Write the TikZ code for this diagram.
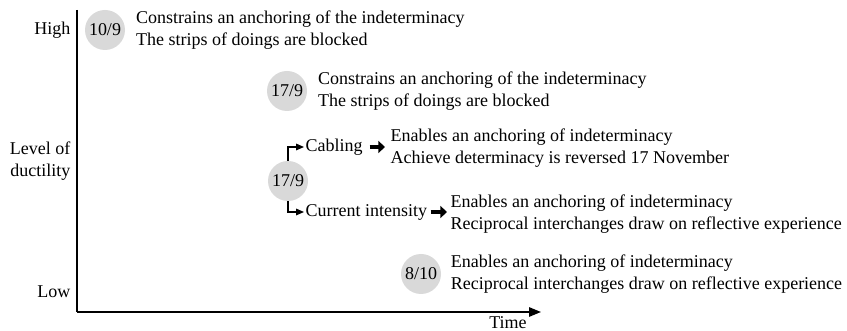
\documentclass[tikz,border=0pt]{standalone}
\usepackage{fontspec}
\setmainfont{Liberation Serif}
\usetikzlibrary{arrows.meta,positioning}
\definecolor{dgray}{RGB}{217,217,217}
\tikzset{
  lbl/.style={font=\fontsize{13.5}{16.5}\selectfont,inner sep=1pt},
  txt/.style={lbl,align=left,anchor=west},
  dt/.style={circle,fill=dgray,minimum size=30pt,inner sep=0pt,
    font=\fontsize{13.5}{15}\selectfont},
  axis/.style={line width=1.4pt},
  brarr/.style={-{Triangle[length=6pt,width=5pt]},line width=0.8pt},
  bigarr/.style={-{Triangle[length=5pt,width=9pt]},line width=2.6pt,
    shorten <=1.5pt,shorten >=1.5pt},
}
\begin{document}
\begin{tikzpicture}[x=0.75pt,y=-0.75pt]
    \useasboundingbox (0,0) rectangle (847,331);

    % ── Axes ───────────────────────────────────────────────────────────────
    \coordinate (ytop) at (77,10);
    \coordinate (org)  at (77,312);
    \coordinate (xend) at (541,312);
    \draw[axis] (ytop)--(org);
    \draw[axis,-{Triangle[length=9pt,width=7pt]}] (org)--(xend);

    \node[lbl,anchor=east] (high) at (72,30)  {High};
    \node[lbl,anchor=east,align=right] (lvl) at (72,161) {Level of\\ductility};
    \node[lbl,anchor=east] (low)  at (72,292) {Low};
    \node[lbl] (time) at (508,323) {Time};

    % ── Dates ──────────────────────────────────────────────────────────────
    \node[dt] (d1) at (105,30)  {10/9};
    \node[txt,right=7pt of d1] (t1)
      {Constrains an anchoring of the indeterminacy\\The strips of doings are blocked};

    \node[dt] (d2) at (287,91)  {17/9};
    \node[txt,right=7pt of d2] (t2)
      {Constrains an anchoring of the indeterminacy\\The strips of doings are blocked};

    \node[dt] (d3) at (288,181) {17/9};
    \node[txt] (cab) at (304,147) {Cabling};
    \node[txt] (cur) at (304,212) {Current intensity};
    \node[txt] (e1) at (389,148)
      {Enables an anchoring of indeterminacy\\Achieve determinacy is reversed 17 November};
    \node[txt] (e2) at (449,214)
      {Enables an anchoring of indeterminacy\\Reciprocal interchanges draw on reflective experience};

    \draw[brarr] (d3.north)|-(cab.west);
    \draw[brarr] (d3.south)|-(cur.west);
    \draw[bigarr,shorten <=4pt,shorten >=3pt] (cab.east)--(cab.east-|e1.west);
    \draw[bigarr] (cur.east)--(cur.east-|e2.west);

    \node[dt] (d4) at (421,274) {8/10};
    \node[txt,right=6pt of d4] (t4)
      {Enables an anchoring of indeterminacy\\Reciprocal interchanges draw on reflective experience};

  \end{tikzpicture}
\end{document}
